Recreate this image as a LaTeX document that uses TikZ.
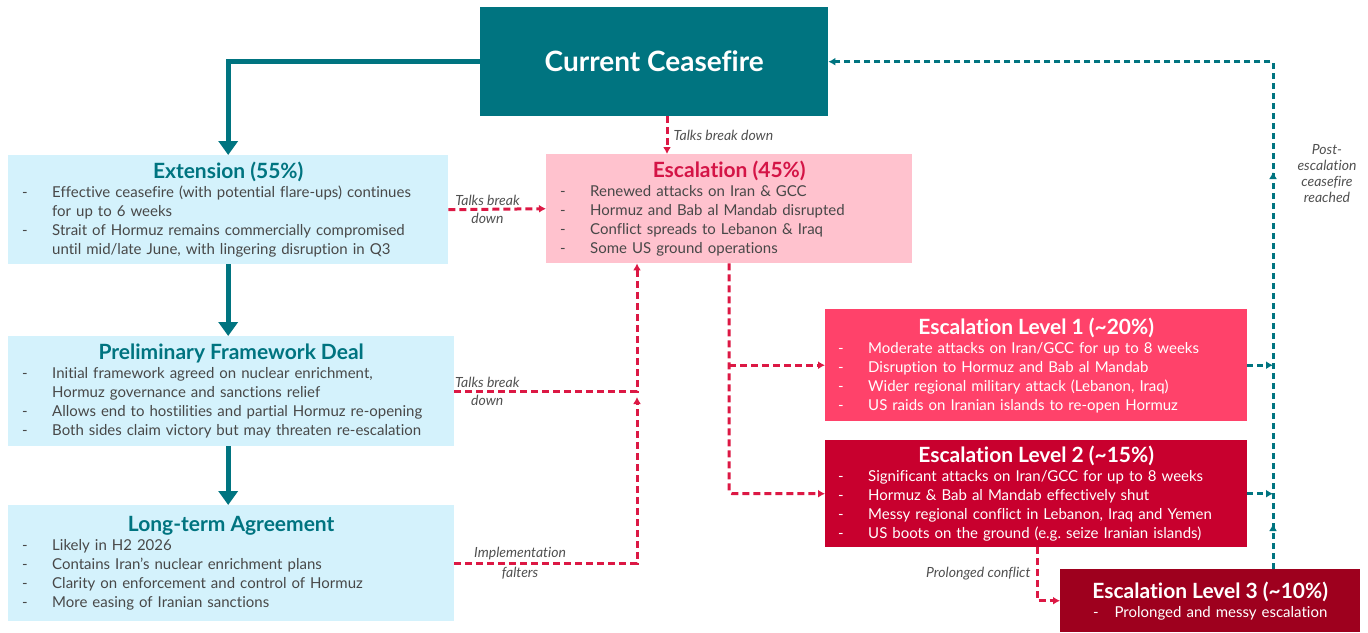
\documentclass[tikz,border=0pt]{standalone}
\usepackage{fontspec}
\setmainfont{Lato}[Ligatures=NoCommon]
\usetikzlibrary{arrows.meta,decorations.markings}

\definecolor{cfteal}{RGB}{0,116,128}
\definecolor{pathblue}{RGB}{212,242,252}
\definecolor{escpink}{RGB}{255,194,206}
\definecolor{escred}{RGB}{212,20,70}
\definecolor{lvlone}{RGB}{255,66,106}
\definecolor{lvltwo}{RGB}{200,0,46}
\definecolor{lvlthree}{RGB}{158,0,30}
\definecolor{bodygray}{RGB}{72,72,72}
\definecolor{notegray}{RGB}{80,80,80}
\definecolor{dashred}{RGB}{220,24,68}

\newcommand{\bul}[1]{\par\noindent\makebox[30pt][l]{-}#1}
\newcommand{\cont}[1]{\par\noindent\hspace*{30pt}#1}
\newcommand{\boxtitle}[1]{{\centering\fontsize{21}{25}\selectfont\bfseries #1\par}}

\begin{document}
\begin{tikzpicture}[x=1pt,y=-1pt,
  box/.style={anchor=north west,inner xsep=14pt,inner ysep=2pt,font=\fontsize{15}{19}\selectfont},
  planbox/.style={box,fill=pathblue,text=bodygray},
  lvlbox/.style={box,text=white,inner xsep=13pt},
  cfbox/.style={anchor=north west,fill=cfteal,text=white,minimum width=348pt,minimum height=109pt,font=\fontsize{28}{32}\selectfont\bfseries},
  mainflow/.style={draw=cfteal,line width=5pt,-{Triangle[width=19pt,length=14pt]}},
  reddash/.style={draw=dashred,line width=3pt,dash pattern=on 7pt off 4pt,-{Latex[length=7pt,width=8pt]}},
  tealdash/.style={draw=cfteal,line width=3pt,dash pattern=on 6pt off 4pt,-{Latex[length=7pt,width=8pt]}},
  note/.style={font=\fontsize{14}{16}\selectfont\itshape,text=notegray,align=center,inner sep=1pt}]

\useasboundingbox (0,0) rectangle (1368,632);

% main boxes
\node[cfbox] (cf) at (480,7) {Current Ceasefire};

\node[planbox,text width=412pt,minimum height=109pt] (ext) at (8,155) {%
  \boxtitle{\color{cfteal}Extension (55\%)}\raggedright
  \bul{Effective ceasefire (with potential flare-ups) continues}
  \cont{for up to 6 weeks}
  \bul{Strait of Hormuz remains commercially compromised}
  \cont{until mid/late June, with lingering disruption in Q3}};

\node[planbox,text width=418pt,minimum height=110pt] (prelim) at (8,336) {%
  \boxtitle{\color{cfteal}Preliminary Framework Deal}\raggedright
  \bul{Initial framework agreed on nuclear enrichment,}
  \cont{Hormuz governance and sanctions relief}
  \bul{Allows end to hostilities and partial Hormuz re-opening}
  \bul{Both sides claim victory but may threaten re-escalation}};

\node[planbox,text width=418pt,minimum height=116pt] (lt) at (8,505) {%
  \boxtitle{\color{cfteal}Long-term Agreement}\raggedright
  \bul{Likely in H2 2026}
  \bul{Contains Iran’s nuclear enrichment plans}
  \bul{Clarity on enforcement and control of Hormuz}
  \bul{More easing of Iranian sanctions}};

\node[box,fill=escpink,text=bodygray,text width=338pt,minimum height=109pt] (esc) at (546,154) {%
  \boxtitle{\color{escred}Escalation (45\%)}\raggedright
  \bul{Renewed attacks on Iran \& GCC}
  \bul{Hormuz and Bab al Mandab disrupted}
  \bul{Conflict spreads to Lebanon \& Iraq}
  \bul{Some US ground operations}};

\node[lvlbox,fill=lvlone,text width=396pt,minimum height=112pt] (l1) at (825,309) {%
  \boxtitle{Escalation Level 1 (\textasciitilde20\%)}\raggedright
  \bul{Moderate attacks on Iran/GCC for up to 8 weeks}
  \bul{Disruption to Hormuz and Bab al Mandab}
  \bul{Wider regional military attack (Lebanon, Iraq)}
  \bul{US raids on Iranian islands to re-open Hormuz}};

\node[lvlbox,fill=lvltwo,text width=396pt,minimum height=107pt] (l2) at (825,440) {%
  \boxtitle{Escalation Level 2 (\textasciitilde15\%)}\raggedright
  \bul{Significant attacks on Iran/GCC for up to 8 weeks}
  \bul{Hormuz \& Bab al Mandab effectively shut}
  \bul{Messy regional conflict in Lebanon, Iraq and Yemen}
  \bul{US boots on the ground (e.g.\ seize Iranian islands)}};

\node[lvlbox,fill=lvlthree,text width=274pt,minimum height=63pt] (l3) at (1060,569) {%
  \boxtitle{Escalation Level 3 (\textasciitilde10\%)}
  {\centering -\hspace{16pt}Prolonged and messy escalation\par}};

% helper columns
\coordinate (tbd) at (667,0);
\coordinate (meet) at (637,397);
\coordinate (pc) at (1037,0);
\coordinate (tx) at (1273,0);

% solid teal flow
\draw[mainflow] (cf.west) -| (ext.north);
\draw[mainflow] (ext.south) -- (ext.south |- prelim.north);
\draw[mainflow] (prelim.south -| ext.south) -- (lt.north -| ext.south);

% red dashed flow
\draw[reddash] (cf.south -| tbd) -- (esc.north -| tbd)
  node[midway,right=4pt,note] {Talks break down};
\draw[reddash] (ext.east) -- (esc.west)
  node[pos=0.4,above=1pt,note] {Talks break}
  node[pos=0.4,below=1pt,note] {down};
\draw[reddash] (prelim.east) -| (meet |- esc.south)
  node[pos=0.09,above=1pt,note] {Talks break}
  node[pos=0.09,below=1pt,note] {down};
\draw[reddash] (lt.east) -| (meet)
  node[pos=0.18,above=1pt,note] {Implementation}
  node[pos=0.18,below=1pt,note] {falters};
\draw[reddash,rounded corners=3pt] (esc.south) |- (l2.west);
\draw[reddash] (esc.south |- l1.west) -- (l1.west);
\draw[reddash] (l2.south -| pc) |- (l3.west)
  node[pos=0.25,left=4pt,note] {Prolonged conflict};

% teal dashed return
\draw[tealdash,postaction={decorate},decoration={markings,
    mark=at position 45pt with {\arrow{Latex[length=7pt,width=8pt]}},
    mark=at position 397pt with {\arrow{Latex[length=7pt,width=8pt]}}}]
  (l3.north -| tx) |- (cf.east)
  node[pos=0.39,right=22pt,note] {Post-\\escalation\\ceasefire\\reached};
\draw[tealdash] (l1.east) -- (l1.east -| tx);
\draw[tealdash] (l2.east) -- (l2.east -| tx);
\end{tikzpicture}
\end{document}
